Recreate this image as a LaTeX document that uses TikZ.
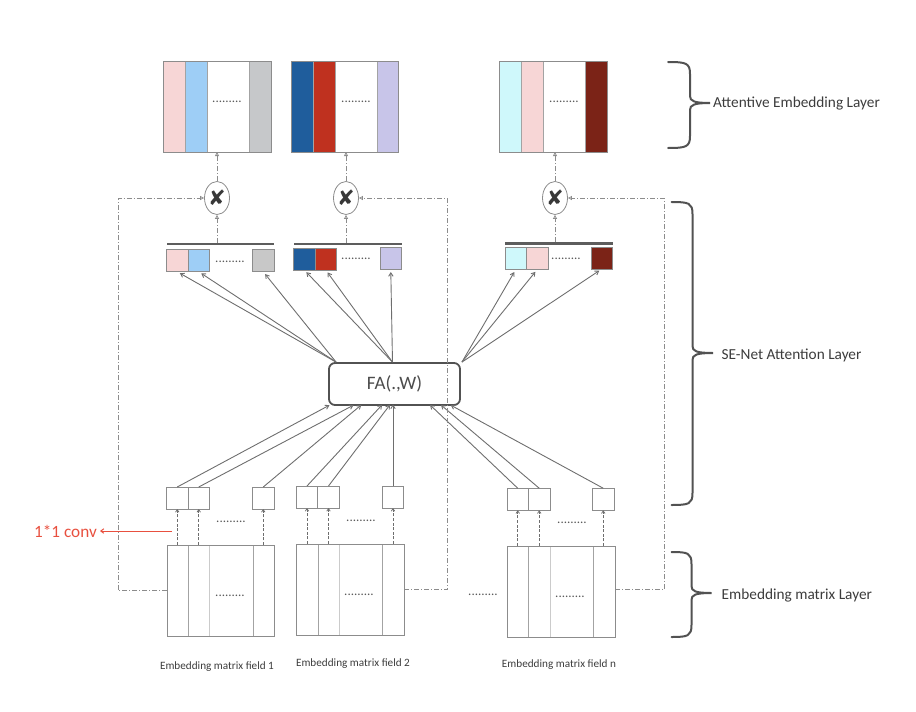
\documentclass[tikz,border=0pt]{standalone}
\usepackage{fontspec}
\setmainfont{Carlito}
\newfontfamily\djv{DejaVu Sans}
\usetikzlibrary{arrows.meta,shapes.geometric}
\definecolor{pinkc}{HTML}{F7D6D6}
\definecolor{bluel}{HTML}{9ECEF6}
\definecolor{grayc}{HTML}{C6C8CA}
\definecolor{blued}{HTML}{1F5D9C}
\definecolor{redc}{HTML}{BF311F}
\definecolor{lav}{HTML}{C8C5E9}
\definecolor{cyanl}{HTML}{CFF8FB}
\definecolor{redd}{HTML}{7B2317}
\definecolor{sqgray}{HTML}{C8C8C8}
\definecolor{linec}{HTML}{6E6E6E}
\definecolor{framec}{HTML}{8C8C8C}
\definecolor{convred}{HTML}{E8503F}
\definecolor{txt}{HTML}{3C3C3C}
\begin{document}
\begin{tikzpicture}[x=1pt,y=-1pt,
  matbox/.style={draw=framec,line width=1pt,minimum width=108pt,minimum height=91pt,inner sep=0pt,outer sep=0pt},
  sepl/.style={draw=framec!80,line width=0.6pt},
  sepll/.style={draw=framec!45,line width=0.6pt},
  cell/.style={draw=framec,line width=0.8pt,minimum width=21.5pt,minimum height=22pt,inner sep=0pt,outer sep=0pt},
  barnode/.style={fill=linec!85!black,minimum height=2.2pt,inner sep=0pt,outer sep=0pt},
  mult/.style={ellipse,draw=framec,line width=0.8pt,minimum width=25pt,minimum height=33pt,inner sep=0pt,text=black!78,font=\djv\fontsize{21}{21}\selectfont},
  dotsn/.style={inner sep=0pt,text=black!65,font=\fontsize{13}{13}\selectfont},
  arr/.style={draw=linec,line width=0.9pt,-{Straight Barb[length=3.5pt,width=4.5pt]}},
  dasharr/.style={draw=linec,line width=0.8pt,dashed,dash pattern=on 3pt off 1.6pt,-{Straight Barb[length=2.5pt,width=3.5pt]}},
  ddarr/.style={draw=framec,line width=0.8pt,dash pattern=on 5pt off 2pt on 1pt off 2pt,-{Triangle[open,length=4pt,width=4pt]}},
  brc/.style={draw=black!68,line width=2pt,line cap=round},
  lab/.style={anchor=west,inner sep=0pt,text=txt,font=\fontsize{15.3}{18}\selectfont},
  flab/.style={inner sep=0pt,text=txt,font=\fontsize{11.2}{13}\selectfont},
]
\useasboundingbox (0,0) rectangle (916,712);

% ---------------- top attentive embedding matrices
\fill[pinkc] (163,61) rectangle (185,152);
\fill[bluel] (185,61) rectangle (207,152);
\fill[grayc] (249,61) rectangle (271,152);
\draw[sepl] (185,61) -- (185,152) (207,61) -- (207,152) (249,61) -- (249,152);
\node[matbox] (A1) at (217,106.5) {};
\node[dotsn] (A1d) at (227,102) {.........};

\fill[blued] (291,61) rectangle (313,152);
\fill[redc] (313,61) rectangle (335,152);
\fill[lav] (377,61) rectangle (398,152);
\draw[sepl] (313,61) -- (313,152) (335,61) -- (335,152) (377,61) -- (377,152);
\node[matbox,minimum width=107pt] (A2) at (344.5,106.5) {};
\node[dotsn] (A2d) at (356,102) {.........};

\fill[cyanl] (499,61) rectangle (521,152);
\fill[pinkc] (521,61) rectangle (543,152);
\fill[redd] (585,61) rectangle (607,152);
\draw[sepl] (521,61) -- (521,152) (543,61) -- (543,152) (585,61) -- (585,152);
\node[matbox] (A3) at (553,106.5) {};
\node[dotsn] (A3d) at (564,102) {.........};

% ---------------- multiply nodes
\node[mult] (M1) at (217,198) {✘};
\node[mult] (M2) at (346,198) {✘};
\node[mult] (M3) at (555,198) {✘};

% ---------------- bars and weight squares
\node[barnode,minimum width=107.5pt] (K1) at (220.25,244) {};
\node[barnode,minimum width=108pt] (K2) at (348,244) {};
\node[barnode,minimum width=107.5pt] (K3) at (558.75,243.5) {};

\node[cell,fill=pinkc] (S11) at (177.25,260.75) {};
\node[cell,fill=bluel] (S12) at (198.75,260.75) {};
\node[cell,fill=sqgray] (S13) at (263.25,260.75) {};
\node[dotsn] (D1) at (230,262) {.........};
\node[cell,fill=blued] (S21) at (304.25,259) {};
\node[cell,fill=redc] (S22) at (325.75,259) {};
\node[cell,fill=lav] (S23) at (390.75,258) {};
\node[dotsn] (D2) at (356,259) {.........};
\node[cell,fill=cyanl] (S31) at (515.75,258.5) {};
\node[cell,fill=pinkc] (S32) at (537.25,258.5) {};
\node[cell,fill=redd] (S33) at (601.75,258) {};
\node[dotsn] (D3) at (566,259) {.........};

% ---------------- FA node
\node[draw=black!68,line width=1.8pt,rounded corners=6pt,minimum width=131pt,minimum height=42pt,inner sep=0pt,text=black!70,font=\fontsize{19}{20}\selectfont] (FA) at (394.5,384) {FA(.,W)};

% ---------------- 1*1 conv boxes
\node[cell] (B11) at (177.25,498) {};
\node[cell] (B12) at (198.75,498) {};
\node[cell] (B13) at (263.25,498) {};
\node[dotsn] (BD1) at (231,522) {.........};
\node[cell] (B21) at (307,497) {};
\node[cell] (B22) at (328.5,497) {};
\node[cell] (B23) at (393,497) {};
\node[dotsn] (BD2) at (361,521) {.........};
\node[cell] (B31) at (517.75,499.25) {};
\node[cell] (B32) at (539.25,499.25) {};
\node[cell] (B33) at (603.25,499.25) {};
\node[dotsn] (BD3) at (572,522.5) {.........};

% ---------------- embedding matrices
\draw[sepl] (188,545) -- (188,636) (253,545) -- (253,636);
\draw[sepll] (209,545) -- (209,636);
\node[matbox,minimum width=107pt] (E1) at (220.5,590.5) {};
\node[dotsn] (ED1) at (230,596) {.........};
\draw[sepl] (318,544) -- (318,635) (382.5,544) -- (382.5,635);
\draw[sepll] (339,544) -- (339,635);
\node[matbox] (E2) at (350,589.5) {};
\node[dotsn] (ED2) at (359,595) {.........};
\draw[sepl] (528.5,546) -- (528.5,637) (593.5,546) -- (593.5,637);
\draw[sepll] (550,546) -- (550,637);
\node[matbox] (E3) at (561,591.5) {};
\node[dotsn] (ED3) at (570,597) {.........};
\node[dotsn] (EDm) at (483,595) {.........};

% ---------------- field labels
\node[flab] (F1) at (217,666.5) {Embedding matrix field 1};
\node[flab] (F2) at (353,664) {Embedding matrix field 2};
\node[flab] (F3) at (559,664.5) {Embedding matrix field n};

% ---------------- dashed 1*1 conv arrows
\foreach \b/\e in {B11/E1,B12/E1,B13/E1,B21/E2,B22/E2,B23/E2,B31/E3,B32/E3,B33/E3}
  \draw[dasharr] (\b.south |- \e.north) -- (\b.south);

% ---------------- red 1*1 conv
\coordinate (cv) at (172,531);
\node[anchor=east,inner sep=0pt,text=convred,font=\fontsize{17.2}{18}\selectfont] (conv) at (97,531) {1*1 conv};
\draw[draw=convred,line width=1pt,-{Straight Barb[length=3pt,width=4.5pt]},shorten >=3pt] (cv) -- (conv.east);

% ---------------- FA output arrows
\coordinate (fta) at ([xshift=8pt]FA.north west);
\coordinate (ftb) at ([xshift=-2pt]FA.north);
\coordinate (ftc) at ([xshift=1pt]FA.north east);
\foreach \s in {S11,S12,S13} \draw[arr,shorten >=3pt] (fta) -- (\s.south);
\foreach \s in {S21,S22,S23} \draw[arr,shorten >=3pt] (ftb) -- (\s.south);
\foreach \s in {S31,S32,S33} \draw[arr,shorten >=3pt] (ftc) -- (\s.south);

% ---------------- FA input arrows
\draw[arr,shorten >=-1.5pt] (B11.north) -- (FA.south west);
\draw[arr,shorten >=-1.5pt] (B12.north) -- ([xshift=24pt]FA.south west);
\draw[arr,shorten >=-1.5pt] (B13.north) -- ([xshift=32pt]FA.south west);
\draw[arr,shorten >=-1.5pt] (B21.north) -- ([xshift=53pt]FA.south west);
\draw[arr,shorten >=-1.5pt] (B22.north) -- ([xshift=61pt]FA.south west);
\draw[arr,shorten >=-1.5pt] (B23.north) -- (B23.north |- FA.south);
\draw[arr,shorten >=-1.5pt] (B31.north) -- ([xshift=103pt]FA.south west);
\draw[arr,shorten >=-1.5pt] (B32.north) -- ([xshift=114pt]FA.south west);
\draw[arr,shorten >=-1.5pt] (B33.north) -- ([xshift=124pt]FA.south west);

% ---------------- dash-dot attention paths
\draw[ddarr] (M1 |- K1.north) -- (M1.south);
\draw[ddarr] (M2 |- K2.north) -- (M2.south);
\draw[ddarr] (M3 |- K3.north) -- (M3.south);
\draw[ddarr] (M1.north) -- (M1.north |- A1.south);
\draw[ddarr] (M2.north) -- (M2.north |- A2.south);
\draw[ddarr] (M3.north) -- (M3.north |- A3.south);
\draw[ddarr] (E1.west) -- ++(-49,0) |- (M1.west);
\draw[ddarr] (E2.east) -- ++(43,0) |- (M2.east);
\draw[ddarr] ([yshift=2pt]E3.east) -- ++(49,0) |- (M3.east);

% ---------------- braces and layer labels
\draw[brc] (668,62) .. controls (686,62) and (690,63) .. (690,74) -- (690,96) .. controls (690,101) and (694,103) .. (710,103)
  .. controls (694,103) and (690,105) .. (690,110) -- (690,136) .. controls (690,147) and (686,148) .. (668,148);
\node[lab] (L1) at (713,104) {Attentive Embedding Layer};
\draw[brc] (671.5,202) .. controls (689,202) and (692.5,203) .. (692.5,214) -- (692.5,346) .. controls (692.5,351) and (696,353) .. (713,353)
  .. controls (696,353) and (692.5,355) .. (692.5,360) -- (692.5,493) .. controls (692.5,504) and (689,505) .. (671.5,505);
\node[lab] (L2) at (721.5,355) {SE-Net Attention Layer};
\draw[brc] (671.5,552) .. controls (688,552) and (691.5,553) .. (691.5,564) -- (691.5,586) .. controls (691.5,591) and (695,593) .. (711.5,593)
  .. controls (695,593) and (691.5,595) .. (691.5,600) -- (691.5,625) .. controls (691.5,636) and (688,637) .. (671.5,637);
\node[lab] (L3) at (721.5,595) {Embedding matrix Layer};
\end{tikzpicture}
\end{document}
